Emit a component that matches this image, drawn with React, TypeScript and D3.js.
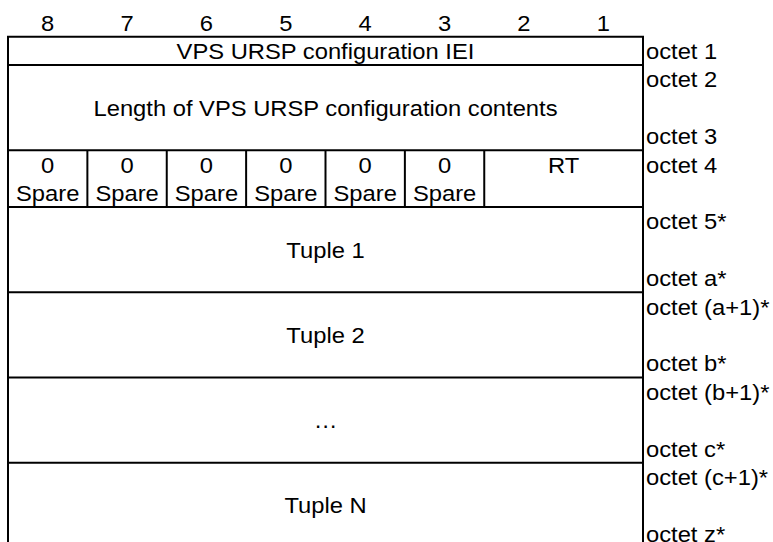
import React from "react";
import * as d3 from "d3";

// bit numbers across the top, left to right
const bitLabels = ["8", "7", "6", "5", "4", "3", "2", "1"];

// one entry per table row: how many text lines tall, centred label
const rowLines = [1, 3, 2, 3, 3, 3, 3];
const rowTexts = [
  "VPS URSP configuration IEI",
  "Length of VPS URSP configuration contents",
  "",
  "Tuple 1",
  "Tuple 2",
  "…",
  "Tuple N",
];
// octet labels on the right: first line of row, last line of row
const octetFirst = ["octet 1", "octet 2", "octet 4", "octet 5*", "octet (a+1)*", "octet (b+1)*", "octet (c+1)*"];
const octetLast = ["", "octet 3", "", "octet a*", "octet b*", "octet c*", "octet z*"];

// the octet 4 row: six spare bits, then RT over bits 2..1
const spareValues = ["0", "0", "0", "0", "0", "0"];
const spareNames = ["Spare", "Spare", "Spare", "Spare", "Spare", "Spare"];
const rtLabel = "RT";

const W = 773;
const H = 542;
const FONT = "'Liberation Sans', Arial, sans-serif";
const FS = 22;
const STRETCH = 1.08;

export default function App() {
  const totalLines = d3.sum(rowLines);
  const x = d3.scaleLinear().domain([0, 8]).range([8, 643]);
  const y = d3.scaleLinear().domain([0, totalLines]).range([36.7, 36.7 + totalLines * 28.4]);
  const base = (line: number) => y(line) + 22.3;

  const starts = d3.cumsum([0, ...rowLines]).slice(0, rowLines.length);

  const txt = (key: string, tx: number, ty: number, s: string, anchor = "middle") => (
    <text
      key={key}
      transform={`translate(${tx},${ty}) scale(${STRETCH},1)`}
      textAnchor={anchor}
      fontFamily={FONT}
      fontSize={FS}
      fill="#000"
    >
      {s}
    </text>
  );

  const spareRow = 2;
  const sTop = starts[spareRow];

  return (
    <div style={{ position: "absolute", left: 0, top: 0 }}>
      <svg width={W} height={H} style={{ display: "block", background: "#fff" }}>
        {bitLabels.map((b, i) => txt("b" + i, x(i + 0.5), base(-1), b))}

        <g stroke="#000" strokeWidth={2} fill="none">
          {d3.range(totalLines + 1)
            .filter((l) => l === 0 || d3.cumsum(rowLines).includes(l))
            .map((l) => (
              <line key={"h" + l} x1={x(0) - 1} x2={x(8) + 1} y1={y(l)} y2={y(l)} />
            ))}
          <line x1={x(0)} x2={x(0)} y1={y(0)} y2={y(totalLines)} />
          <line x1={x(8)} x2={x(8)} y1={y(0)} y2={y(totalLines)} />
          {d3.range(1, spareValues.length + 1).map((c) => (
            <line key={"v" + c} x1={x(c)} x2={x(c)} y1={y(sTop)} y2={y(sTop + rowLines[spareRow])} />
          ))}
        </g>

        {rowTexts.map((t, r) =>
          t ? txt("t" + r, x(4), base(starts[r] + Math.floor(rowLines[r] / 2)), t) : null
        )}

        {spareValues.map((v, i) => txt("sv" + i, x(i + 0.5), base(sTop), v))}
        {spareNames.map((v, i) => txt("sn" + i, x(i + 0.5), base(sTop + 1), v))}
        {txt("rt", x(7), base(sTop), rtLabel)}

        {octetFirst.map((o, r) => txt("of" + r, x(8) + 3, base(starts[r]), o, "start"))}
        {octetLast.map((o, r) =>
          o ? txt("ol" + r, x(8) + 3, base(starts[r] + rowLines[r] - 1), o, "start") : null
        )}
      </svg>
    </div>
  );
}
